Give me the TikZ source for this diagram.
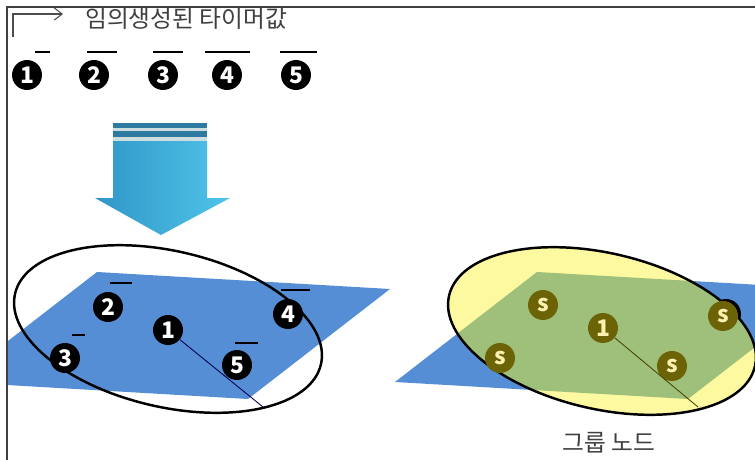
\documentclass[tikz,border=0pt]{standalone}
\usepackage{fontspec}
\setmainfont{Noto Sans CJK KR}
\usepackage{tikz}
\usetikzlibrary{arrows.meta}

\definecolor{planeblue}{RGB}{85,142,213}
\definecolor{grpyellow}{RGB}{252,249,160}
\definecolor{grpgreen}{RGB}{158,192,122}
\definecolor{olivedot}{RGB}{108,98,6}
\definecolor{sletter}{RGB}{250,240,175}
\definecolor{arrowdark}{RGB}{48,150,200}
\definecolor{arrowlight}{RGB}{80,196,232}
\definecolor{stripe}{RGB}{46,122,160}
\definecolor{stripegap}{RGB}{205,222,224}

\begin{document}
\begin{tikzpicture}[
    x=0.02cm, y=-0.02cm,
    dot/.style={circle, fill=black, text=white, minimum size=0.6cm, inner sep=0pt, font=\fontsize{13}{13}\selectfont\bfseries},
    sdot/.style={dot, fill=olivedot, text=sletter},
    timebar/.style={line width=1.3pt},
    plane/.style={fill=planeblue},
    ring/.style={line width=1.4pt},
    label/.style={font=\fontsize{13.5}{16}\selectfont, text=black!75, inner sep=0pt}
]
\useasboundingbox (0,0) rectangle (755,460);

\begin{scope}
\clip (7,7) rectangle (755,460);

% Legend: timer values drawn above each node
\node[label, anchor=west] (title) at (85,19) {임의생성된 타이머값};
\coordinate (cornerfoot) at (13,37);
\coordinate (cornertip) at (63,14);
\draw[black!70, line width=0.6pt, -{Straight Barb[length=4.5pt, width=7pt]}] (cornerfoot) |- (cornertip);

\node[dot] (t1) at (27,75) {1};
\node[dot] (t2) at (94,75) {2};
\node[dot] (t3) at (163,75) {3};
\node[dot] (t4) at (227,75) {4};
\node[dot] (t5) at (296,75) {5};
\draw[timebar] ([shift={(8,-23)}]t1.center) -- ++(15,0);
\draw[timebar] ([shift={(-7,-23)}]t2.center) -- ++(30,0);
\draw[timebar] ([shift={(-10,-23)}]t3.center) -- ++(30,0);
\draw[timebar] ([shift={(-22,-23)}]t4.center) -- ++(45,0);
\draw[timebar] ([shift={(-16,-23)}]t5.center) -- ++(37,0);

% Big down arrow
\shade[left color=arrowdark, right color=arrowlight]
    (113,141) -- (207,141) -- (207,198) -- (230,198) -- (161,235) -- (95,198) -- (113,198) -- cycle;
\fill[stripegap] (113,123) rectangle (207,141);
\fill[stripe] (113,123) rectangle (207,128);
\fill[stripe] (113,131) rectangle (207,137);

% Left plane with the candidate nodes
\fill[plane] (97,272) -- (390,289) -- (248,399) -- (-45,382) -- cycle;
\draw[ring, rotate around={-13:(168,329)}] (168,329) ellipse [x radius=3.14cm, y radius=1.56cm];

\node[dot] (p1) at (168,330) {1};
\node[dot] (p2) at (108,307) {2};
\node[dot] (p3) at (65,358) {3};
\node[dot] (p4) at (288,314) {4};
\node[dot] (p5) at (237,365) {5};
\coordinate (tailL) at (263,407);
\draw[black!70!blue, line width=0.5pt] (p1) -- (tailL);

\draw[timebar] ([shift={(2,-24)}]p2.center) -- ++(22,0);
\draw[timebar] ([shift={(7,-23)}]p3.center) -- ++(13,0);
\draw[timebar] ([shift={(-7,-24)}]p4.center) -- ++(29,0);
\draw[timebar] ([shift={(-2,-22)}]p5.center) -- ++(23,0);

% Right plane: the group node
\fill[plane] (537,272) -- (830,289) -- (688,399) -- (395,382) -- cycle;
\node[dot] (hid) at (726,314) {};
\fill[grpyellow, rotate around={-13:(602,331)}] (602,331) ellipse [x radius=3.14cm, y radius=1.56cm];
\begin{scope}
\clip[rotate around={-13:(602,331)}] (602,331) ellipse [x radius=3.14cm, y radius=1.56cm];
\fill[grpgreen] (537,272) -- (830,289) -- (688,399) -- (395,382) -- cycle;
\end{scope}
\draw[ring, rotate around={-13:(602,331)}] (602,331) ellipse [x radius=3.14cm, y radius=1.56cm];

\node[sdot] (g1) at (603,328) {1};
\node[sdot] (g2) at (543,305) {s};
\node[sdot] (g3) at (500,358) {s};
\node[sdot] (g4) at (723,316) {s};
\node[sdot] (g5) at (672,366) {s};
\coordinate (tailR) at (698,407);
\draw[olivedot!70!black, line width=0.5pt] (g1) -- (tailR);

\node[label] (grp) at (609,443) {그룹 노드};
\end{scope}

% Frame
\draw[black!75, line width=1pt] (7,460) -- (7,7) -- (755,7);
\end{tikzpicture}
\end{document}
